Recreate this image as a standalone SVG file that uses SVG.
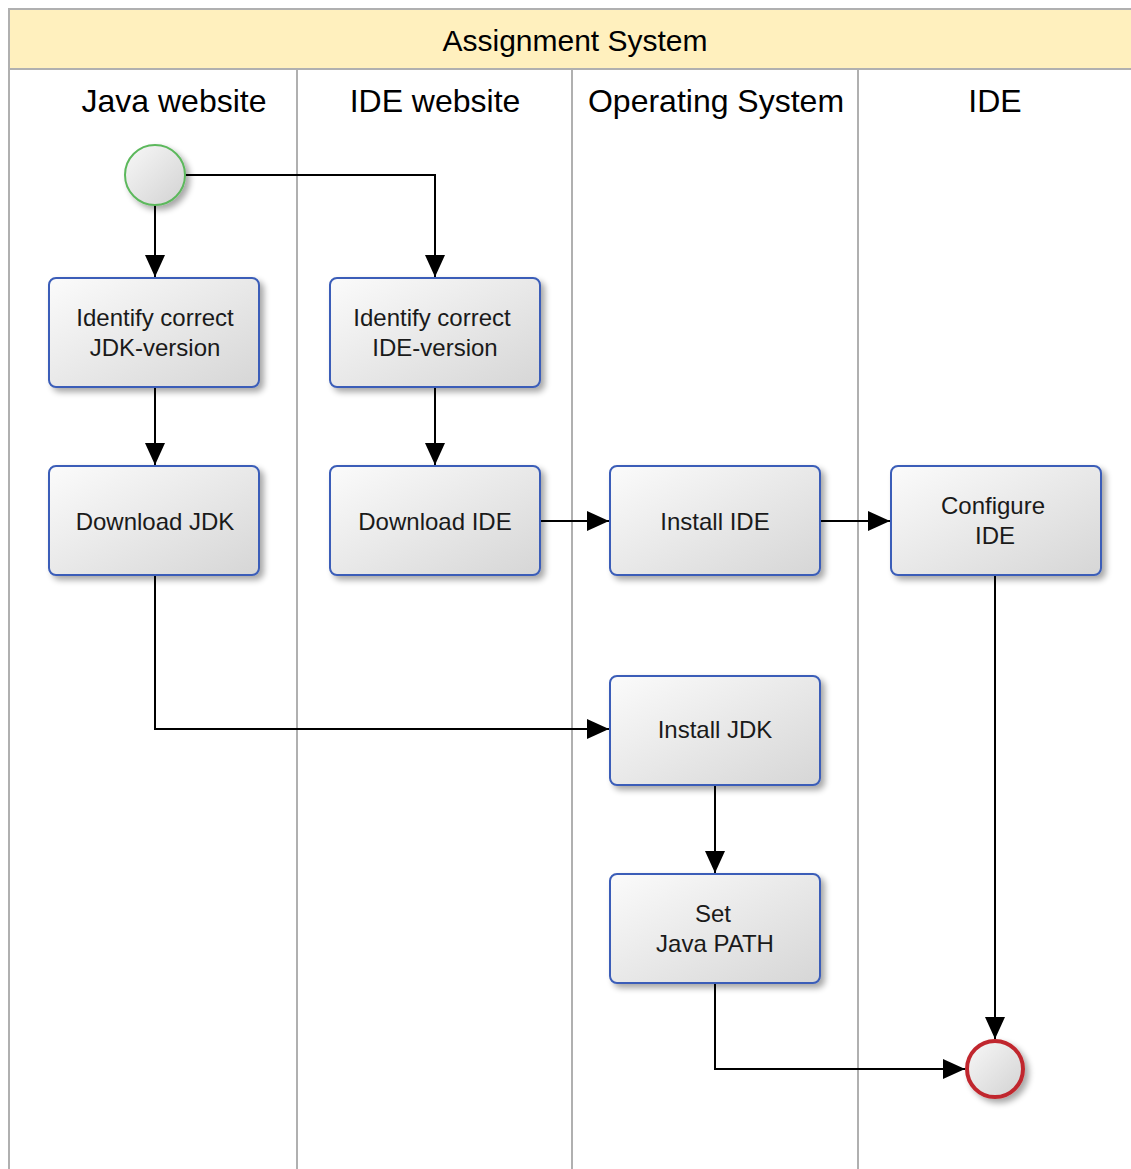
<svg xmlns="http://www.w3.org/2000/svg" width="1131" height="1169" viewBox="0 0 1131 1169">
  <defs>
    <linearGradient id="taskFill" x1="0" y1="0" x2="1" y2="1">
      <stop offset="0" stop-color="#fbfbfb"/>
      <stop offset="1" stop-color="#d6d6d6"/>
    </linearGradient>
    <linearGradient id="eventFill" x1="0" y1="0" x2="1" y2="1">
      <stop offset="0" stop-color="#f8f8f8"/>
      <stop offset="1" stop-color="#d2d2d2"/>
    </linearGradient>
    <filter id="shadow" x="-20%" y="-20%" width="150%" height="150%">
      <feGaussianBlur in="SourceAlpha" stdDeviation="3"/>
      <feOffset dx="4" dy="4" result="b"/>
      <feComponentTransfer><feFuncA type="linear" slope="0.35"/></feComponentTransfer>
      <feMerge><feMergeNode/><feMergeNode in="SourceGraphic"/></feMerge>
    </filter>
    <marker id="arrow" viewBox="0 0 22 20" refX="22" refY="10" markerWidth="22" markerHeight="20" markerUnits="userSpaceOnUse" orient="auto">
      <path d="M0,0 L22,10 L0,20 Z" fill="#000"/>
    </marker>
  </defs>
  <style>
    .lane { stroke: #b0b0b0; stroke-width: 2; fill: none; }
    .task { fill: url(#taskFill); stroke: #3a5db8; stroke-width: 2; filter: url(#shadow); }
    .label { font-family: "Liberation Sans", Arial, sans-serif; font-size: 24px; fill: #1a1a1a; text-anchor: middle; }
    .lanetitle { font-family: "Liberation Sans", Arial, sans-serif; font-size: 32px; fill: #000; text-anchor: middle; }
    .pooltitle { font-family: "Liberation Sans", Arial, sans-serif; font-size: 30px; fill: #000; text-anchor: middle; }
    .flow { fill: none; stroke: #000; stroke-width: 2; marker-end: url(#arrow); }
  </style>

  <rect width="1131" height="1169" fill="#ffffff"/>

  <!-- pool and lanes -->
  <g id="pool">
    <rect x="9" y="9" width="1130" height="60" fill="#fff0be"/>
    <path class="lane" d="M1131,9 H9 V1169 M9,69 H1131 M297,69 V1169 M572,69 V1169 M858,69 V1169"/>
    <text class="pooltitle" x="575" y="51">Assignment System</text>
    <text class="lanetitle" x="174" y="112">Java website</text>
    <text class="lanetitle" x="435" y="112">IDE website</text>
    <text class="lanetitle" x="716" y="112">Operating System</text>
    <text class="lanetitle" x="995" y="112">IDE</text>
  </g>

  <!-- sequence flows -->
  <g id="connectors">
    <path class="flow" d="M155,205 V277"/>
    <path class="flow" d="M185,175 H435 V277"/>
    <path class="flow" d="M155,387 V465"/>
    <path class="flow" d="M435,387 V465"/>
    <path class="flow" d="M540,521 H609"/>
    <path class="flow" d="M820,521 H890"/>
    <path class="flow" d="M155,575 V729 H609"/>
    <path class="flow" d="M715,785 V873"/>
    <path class="flow" d="M715,983 V1069 H965"/>
    <path class="flow" d="M995,575 V1039"/>
  </g>

  <!-- events -->
  <g id="start">
    <circle cx="155" cy="175" r="30" fill="url(#eventFill)" stroke="#5cb85c" stroke-width="2" filter="url(#shadow)"/>
  </g>
  <g id="end">
    <circle cx="995" cy="1069" r="28" fill="url(#eventFill)" stroke="#c0282d" stroke-width="4" filter="url(#shadow)"/>
  </g>

  <!-- tasks -->
  <g id="identify-jdk">
    <rect class="task" x="49" y="278" width="210" height="109" rx="7"/>
    <text class="label" x="155" y="326">Identify correct</text>
    <text class="label" x="155" y="356">JDK-version</text>
  </g>
  <g id="identify-ide">
    <rect class="task" x="330" y="278" width="210" height="109" rx="7"/>
    <text class="label" x="432" y="326">Identify correct</text>
    <text class="label" x="435" y="356">IDE-version</text>
  </g>
  <g id="download-jdk">
    <rect class="task" x="49" y="466" width="210" height="109" rx="7"/>
    <text class="label" x="155" y="530">Download JDK</text>
  </g>
  <g id="download-ide">
    <rect class="task" x="330" y="466" width="210" height="109" rx="7"/>
    <text class="label" x="435" y="530">Download IDE</text>
  </g>
  <g id="install-ide">
    <rect class="task" x="610" y="466" width="210" height="109" rx="7"/>
    <text class="label" x="715" y="530">Install IDE</text>
  </g>
  <g id="configure-ide">
    <rect class="task" x="891" y="466" width="210" height="109" rx="7"/>
    <text class="label" x="993" y="514">Configure</text>
    <text class="label" x="995" y="544">IDE</text>
  </g>
  <g id="install-jdk">
    <rect class="task" x="610" y="676" width="210" height="109" rx="7"/>
    <text class="label" x="715" y="738">Install JDK</text>
  </g>
  <g id="set-path">
    <rect class="task" x="610" y="874" width="210" height="109" rx="7"/>
    <text class="label" x="713" y="922">Set</text>
    <text class="label" x="715" y="952">Java PATH</text>
  </g>
</svg>
